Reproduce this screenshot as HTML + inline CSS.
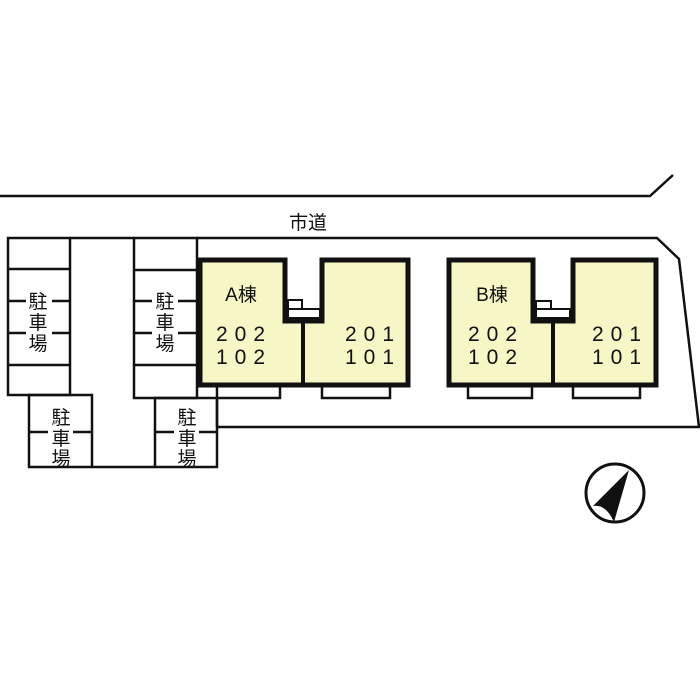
<!DOCTYPE html>
<html><head><meta charset="utf-8"><style>
html,body{margin:0;padding:0;background:#fff;width:700px;height:700px;overflow:hidden}
svg{display:block}
text{font-family:"Liberation Sans","Noto Sans CJK JP",sans-serif;fill:#111}
</style></head><body>
<svg width="700" height="700" viewBox="0 0 700 700" xmlns="http://www.w3.org/2000/svg">
<g fill="none" stroke="#111" stroke-width="2.5">
<polyline points="0,196 650,196 673,175"/>
<polyline points="196,238 657,238 679,259 699,427 217,427"/>
<rect x="8" y="238" width="62" height="157"/>
<rect x="134" y="238" width="63" height="160"/>
<line x1="70" y1="238" x2="134" y2="238"/>
<rect x="29" y="395" width="63" height="72"/>
<rect x="155" y="398" width="62" height="69"/>
<line x1="92" y1="467" x2="155" y2="467"/>
<line x1="8" y1="269" x2="70" y2="269"/><line x1="8" y1="365" x2="70" y2="365"/>
<line x1="134" y1="270" x2="197" y2="270"/><line x1="134" y1="365" x2="197" y2="365"/>
<line x1="8" y1="301" x2="26" y2="301"/><line x1="52" y1="301" x2="70" y2="301"/>
<line x1="8" y1="333" x2="26" y2="333"/><line x1="52" y1="333" x2="70" y2="333"/>
<line x1="134" y1="301" x2="152" y2="301"/><line x1="178" y1="301" x2="197" y2="301"/>
<line x1="134" y1="333" x2="152" y2="333"/><line x1="178" y1="333" x2="197" y2="333"/>
<line x1="29" y1="432" x2="48" y2="432"/><line x1="73" y1="432" x2="92" y2="432"/>
<line x1="155" y1="432" x2="174" y2="432"/><line x1="199" y1="432" x2="217" y2="432"/>
<line x1="217" y1="398" x2="217" y2="427"/>
</g>
<g fill="#fff" stroke="#111" stroke-width="2.5">
<rect x="217" y="385" width="63" height="13"/><rect x="322" y="385" width="68" height="13"/>
<rect x="468" y="385" width="64" height="13"/><rect x="573" y="385" width="67" height="13"/>
</g>
<g fill="#f6f6c6" stroke="#111" stroke-width="5">
<path d="M200,260 H285 V321 H322 V260 H408 V385 H200 Z"/>
<path d="M449,260 H533 V321 H573 V260 H656 V385 H449 Z"/>
</g>
<g stroke="#111" stroke-width="4"><line x1="303" y1="321" x2="303" y2="385"/><line x1="553" y1="321" x2="553" y2="385"/></g>
<g fill="#fff" stroke="#111" stroke-width="2">
<rect x="288" y="300" width="14" height="9"/><rect x="288" y="309" width="32" height="9"/>
<rect x="536" y="301" width="15" height="8"/><rect x="536" y="309" width="34" height="9"/>
</g>
<text x="308" y="229" font-size="19" text-anchor="middle">市道</text>
<g font-size="19" text-anchor="middle">
<text x="38" y="308">駐</text><text x="38" y="329">車</text><text x="38" y="350">場</text>
<text x="165" y="308">駐</text><text x="165" y="329">車</text><text x="165" y="350">場</text>
<text x="61" y="424">駐</text><text x="61" y="445">車</text><text x="61" y="465">場</text>
<text x="187" y="424">駐</text><text x="187" y="445">車</text><text x="187" y="465">場</text>
<text x="241" y="301">A棟</text><text x="492" y="301">B棟</text>
</g>
<g font-size="21" text-anchor="middle" letter-spacing="7">
<text x="244" y="341">202</text><text x="244" y="364">102</text>
<text x="373" y="341">201</text><text x="373" y="364">101</text>
<text x="496" y="341">202</text><text x="496" y="364">102</text>
<text x="620" y="341">201</text><text x="620" y="364">101</text>
</g>
<circle cx="615" cy="493" r="29" fill="none" stroke="#111" stroke-width="3"/>
<path d="M629,470 L614,522 Q606,504 593,506 Z" fill="#111"/>
</svg>
</body></html>
